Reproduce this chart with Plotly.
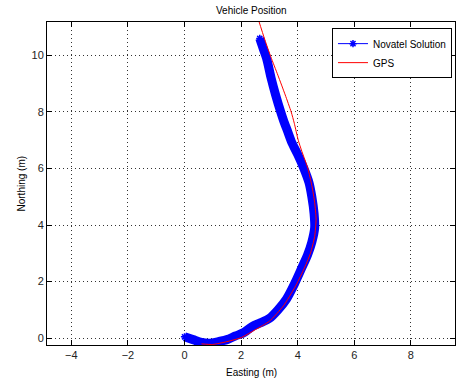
import plotly.graph_objects as go

# Novatel solution (blue)
nov_e = [0.0, 0.3, 0.6, 0.9, 1.2, 1.5, 1.8, 2.1, 2.4, 2.7, 3.0, 3.3, 3.6, 3.9, 4.15, 4.35,
         4.5, 4.6, 4.58, 4.5, 4.4, 4.22, 4.0, 3.8, 3.65, 3.5, 3.4, 3.22, 3.06, 2.9, 2.76, 2.66]
nov_n = [0.05, -0.05, -0.15, -0.18, -0.12, -0.05, 0.08, 0.2, 0.42, 0.55, 0.7, 1.0, 1.38, 1.95, 2.5, 2.95,
         3.4, 3.9, 4.4, 5.0, 5.5, 6.0, 6.5, 6.9, 7.3, 7.7, 8.0, 8.6, 9.2, 9.9, 10.3, 10.6]

# GPS (red)
gps_e = [0.6, 1.0, 1.5, 2.0, 2.5, 3.0, 3.5, 3.9, 4.2, 4.45, 4.6, 4.65, 4.6, 4.5, 4.36,
         4.15, 4.02, 3.88, 3.77, 3.56, 3.3, 3.05, 2.84, 2.6]
gps_n = [-0.2, -0.22, -0.12, 0.02, 0.3, 0.6, 1.15, 1.8, 2.4, 3.0, 3.6, 4.2, 4.8, 5.4, 6.0,
         6.6, 7.0, 7.6, 8.0, 8.6, 9.3, 9.95, 10.55, 11.3]

x_ticks = [-4, -2, 0, 2, 4, 6, 8]
y_ticks = [0, 2, 4, 6, 8, 10]

font = "Liberation Sans, Arial, sans-serif"
fig = go.Figure()

# thick band representing densely packed star markers
fig.add_trace(go.Scatter(x=nov_e, y=nov_n, mode="lines",
                         line=dict(color="#0000FF", width=9, shape="spline", smoothing=0.8),
                         showlegend=False, hoverinfo="skip", legendgroup="n"))
fig.add_trace(go.Scatter(x=nov_e, y=nov_n, mode="lines+markers", name="Novatel Solution",
                         line=dict(color="#0000FF", width=1, shape="spline", smoothing=0.8),
                         marker=dict(symbol="asterisk-open", size=6, color="#0000FF",
                                     line=dict(color="#0000FF", width=1.5)),
                         legendgroup="n"))
fig.add_trace(go.Scatter(x=gps_e, y=gps_n, mode="lines", name="GPS",
                         line=dict(color="#FF0000", width=1, shape="spline", smoothing=0.6)))

axis_common = dict(showgrid=True, gridcolor="#333333", griddash="1px,3px", gridwidth=1,
                   showline=True, linecolor="#000000", linewidth=1, mirror="allticks",
                   ticks="inside", ticklen=5, tickcolor="#000000", zeroline=False,
                   tickfont=dict(family=font, size=11, color="#222222"))

fig.update_layout(
    width=464, height=383,
    margin=dict(l=47, r=9, t=22, b=38),
    paper_bgcolor="white", plot_bgcolor="white",
    xaxis=dict(range=[-4.86, 9.56], tickvals=x_ticks, **axis_common),
    yaxis=dict(range=[-0.24, 11.18], tickvals=y_ticks, **axis_common),
    showlegend=True,
    legend=dict(x=0.6985, y=0.981, xanchor="left", yanchor="top",
                bgcolor="white", bordercolor="#000000", borderwidth=1,
                font=dict(family=font, size=10, color="#000000"),
                tracegroupgap=0),
    annotations=[
        dict(text="Vehicle Position", x=0.5, y=1.037, xref="paper", yref="paper",
             showarrow=False, xanchor="center", yanchor="middle",
             font=dict(family=font, size=10, color="#000000")),
        dict(text="Easting (m)", x=0.5, y=-0.0836, xref="paper", yref="paper",
             showarrow=False, xanchor="center", yanchor="middle",
             font=dict(family=font, size=10, color="#000000")),
        dict(text="Northing (m)", x=-0.0613, y=0.5, xref="paper", yref="paper",
             showarrow=False, xanchor="center", yanchor="middle", textangle=-90,
             font=dict(family=font, size=10, color="#000000")),
    ],
)

fig.write_html("out.html")
